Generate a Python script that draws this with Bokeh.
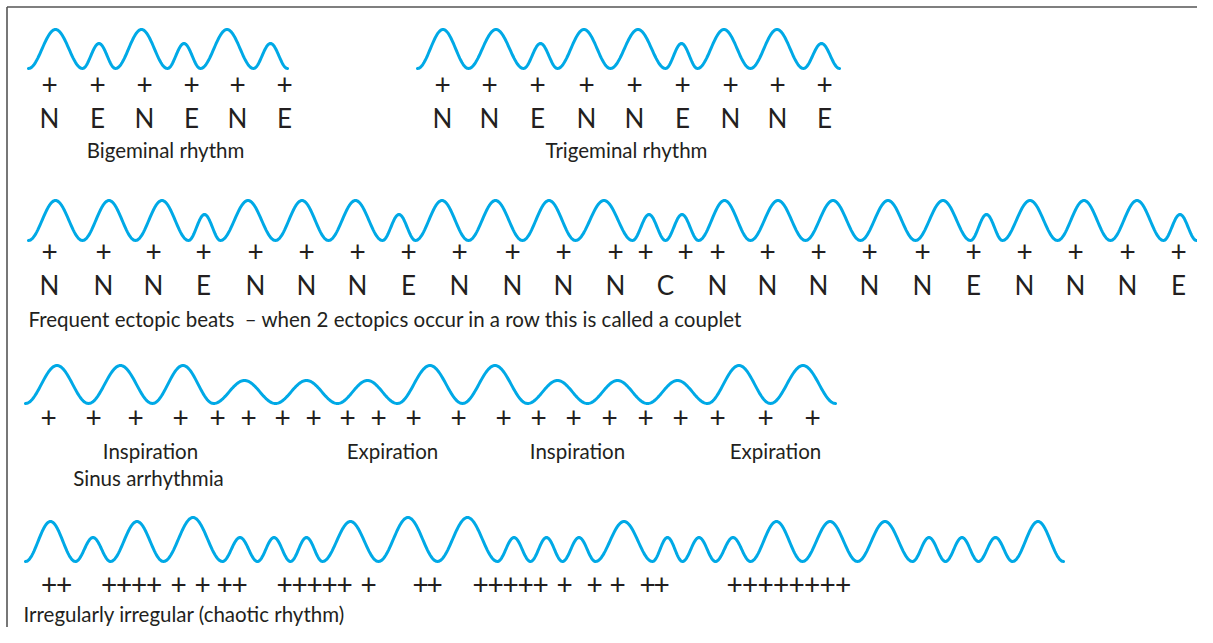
import numpy as np
from bokeh.plotting import figure
from bokeh.models import Range1d
from bokeh.core.properties import value
from bokeh.embed import file_html
from bokeh.resources import INLINE

# ---------------- data (x = time in px units, amp = wave height) -------------
# Row 1: bigeminal rhythm
bigem_labels = ["N", "E", "N", "E", "N", "E"]
bigem_widths = [54, 33, 52, 33, 53, 34]
bigem_amps = [39, 25, 39, 25, 39, 25]
bigem_marks = [49, 97, 144, 191, 237, 284]

# Row 1 right: trigeminal rhythm
trigem_labels = ["N", "N", "E", "N", "N", "E", "N", "N", "E"]
trigem_widths = [51, 55, 34, 53, 55, 32, 53, 53, 36]
trigem_amps = [39, 39, 25, 39, 39, 25, 39, 39, 25]
trigem_marks = [442, 489, 537, 586, 634, 682, 730, 777, 824]

# Row 2: frequent ectopic beats (C = couplet beat)
ect_labels = ["N", "N", "N", "E", "N", "N", "N", "E", "N", "N", "N", "N",
              "C", "C", "N", "N", "N", "N", "N", "E", "N", "N", "N", "E"]
ect_widths = [54, 53, 53, 32, 55, 53, 54, 33, 53, 54, 53, 57,
              33, 33, 52, 55, 55, 55, 55, 32, 55, 53, 53, 33]
ect_amps = [40, 40, 40, 26, 40, 40, 40, 26, 40, 40, 40, 40,
            26, 26, 40, 40, 40, 40, 40, 26, 40, 40, 40, 26]
ect_marks = [49, 103, 153, 203, 255, 306, 357, 408, 459, 512, 563, 615,
             645, 685, 717, 767, 818, 869, 922, 973, 1024, 1075, 1127, 1178]

# Row 3: sinus arrhythmia
sinus_widths = [63, 64, 61, 62, 62, 60, 65, 65, 60, 60, 60, 63, 65]
sinus_amps = [38, 38, 38, 23, 23, 23, 38, 38, 23, 23, 23, 38, 38]
sinus_marks = [48, 93, 135, 180, 217, 248, 282, 313, 347, 378, 413,
               458, 503, 538, 573, 609, 645, 680, 717, 765, 812]
sinus_phases = ["Inspiration", "Expiration", "Inspiration", "Expiration"]
sinus_phase_x = [150, 392, 577, 775]

# Row 4: irregularly irregular
chaos_widths = [50, 35, 53, 59, 35, 33, 32, 56, 59, 60, 33, 32,
                33, 57, 30, 33, 35, 52, 55, 55, 33, 33, 34, 51]
chaos_amps = [40, 24, 40, 44, 24, 24, 24, 40, 44, 44, 24, 24,
              24, 40, 24, 24, 24, 40, 40, 40, 24, 24, 24, 40]
chaos_marks = [48.5, 63.5, 108.5, 123.5, 138.5, 153.5, 178, 202, 224, 239,
               284, 299, 314, 329, 344, 368, 420, 434,
               480, 495, 510, 525, 540, 564, 594, 617, 647, 661,
               734, 749.5, 765, 780.5, 796, 811.5, 827, 842.5]

# ---------------- style / layout -------------
W, H = 1197, 627
WAVE = "#00A9E6"
INK = "#231F20"
FONT = "Lato"
CAP_SIZE = "20.5px"
LET_SIZE = "26px"
PLUS_SIZE = "28px"

p = figure(width=W, height=H, output_backend="svg", toolbar_location=None,
           x_range=Range1d(0, W), y_range=Range1d(H, 0),
           x_axis_location=None, y_axis_location=None, min_border=0)
p.min_border_left = p.min_border_right = p.min_border_top = p.min_border_bottom = 0
p.grid.visible = False
p.outline_line_color = None
p.background_fill_color = "white"
p.border_fill_color = "white"

# frame (left and top edges of the box)
p.line([6.5, 6.5], [H, 6.5], line_color="#555555", line_width=1.6)
p.line([6.5, W], [6.5, 6.5], line_color="#555555", line_width=1.6)


def wave(x0, base, widths, amps, n=48):
    xs, ys = [], []
    x = x0
    for w, a in zip(widths, amps):
        t = np.linspace(0, 1, n)
        if xs:
            t = t[1:]
        xs.extend(x + w * t)
        ys.extend(base - a * (1 - np.cos(2 * np.pi * t)) / 2)
        x += w
    return xs, ys


def draw_wave(x0, base, widths, amps):
    xs, ys = wave(x0, base, widths, amps)
    p.line(xs, ys, line_color=WAVE, line_width=3, line_join="round", line_cap="round")


def texts(xs, y, labels, size, align="center"):
    p.text(x=list(xs), y=[y] * len(xs), text=list(labels),
           text_font=value(FONT), text_font_size=value(size),
           text_color=INK, text_align=align, text_baseline="middle")


def pluses(xs, y):
    texts(xs, y, ["+"] * len(xs), PLUS_SIZE)


def letter_groups(labels, marks):
    out_x, out_t = [], []
    i = 0
    while i < len(labels):
        if labels[i] == "C" and i + 1 < len(labels) and labels[i + 1] == "C":
            out_x.append((marks[i] + marks[i + 1]) / 2)
            out_t.append("C")
            i += 2
        else:
            out_x.append(marks[i])
            out_t.append(labels[i])
            i += 1
    return out_x, out_t


# Row 1
draw_wave(28, 68, bigem_widths, bigem_amps)
pluses(bigem_marks, 84)
texts(bigem_marks, 117, bigem_labels, LET_SIZE)
texts([165], 149, ["Bigeminal rhythm"], CAP_SIZE)

draw_wave(417, 68, trigem_widths, trigem_amps)
pluses(trigem_marks, 84)
texts(trigem_marks, 117, trigem_labels, LET_SIZE)
texts([626], 149, ["Trigeminal rhythm"], CAP_SIZE)

# Row 2
draw_wave(28, 240, ect_widths, ect_amps)
pluses(ect_marks, 251)
lx, lt = letter_groups(ect_labels, ect_marks)
texts(lx, 284, lt, LET_SIZE)
texts([28], 318, ["Frequent ectopic beats \u00a0\u2013 when 2 ectopics occur in a row this is called a couplet"],
      CAP_SIZE, align="left")

# Row 3
draw_wave(25, 403, sinus_widths, sinus_amps)
pluses(sinus_marks, 417)
texts(sinus_phase_x, 450, sinus_phases, CAP_SIZE)
texts([148], 477, ["Sinus arrhythmia"], CAP_SIZE)

# Row 4
draw_wave(25, 561, chaos_widths, chaos_amps)
pluses(chaos_marks, 584)
texts([23], 613, ["Irregularly irregular (chaotic rhythm)"], CAP_SIZE, align="left")

open("out.html", "w").write(file_html(p, INLINE))
